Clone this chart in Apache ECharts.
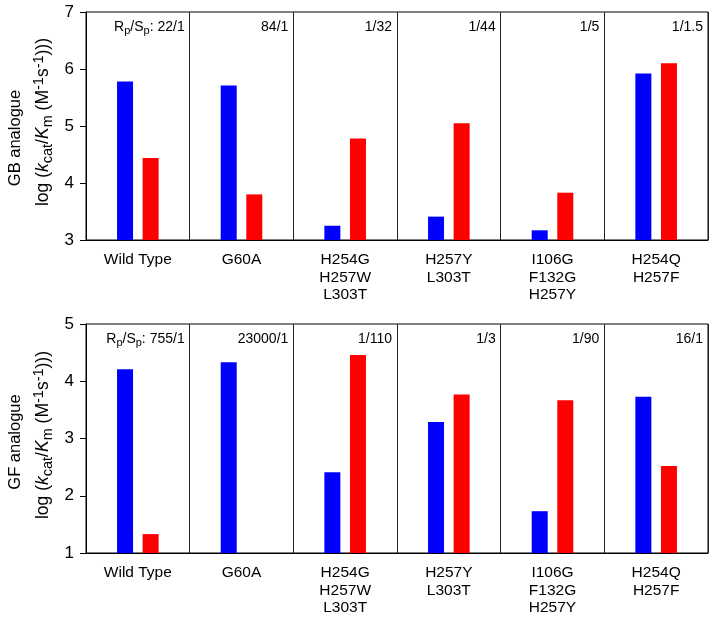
<!DOCTYPE html>
<html>
<head>
<meta charset="utf-8">
<script src="https://cdn.jsdelivr.net/npm/echarts@6/dist/echarts.min.js"></script>
<style>html,body{margin:0;padding:0;background:#fff;}#c{width:716px;height:617px;}</style>
</head>
<body>
<div id="c"></div>
<script>
const categories = ['Wild Type', 'G60A', 'H254G\nH257W\nL303T', 'H257Y\nL303T', 'I106G\nF132G\nH257Y', 'H254Q\nH257F'];
const gbBlue = [5.78, 5.71, 3.25, 3.41, 3.17, 5.92];
const gbRed = [4.44, 3.80, 4.78, 5.05, 3.83, 6.10];
const gfBlue = [4.21, 4.33, 2.41, 3.29, 1.73, 3.73];
const gfRed = [1.33, null, 4.46, 3.77, 3.67, 2.52];
const gbRatios = ['R{s|p}/S{s|p}: 22/1', '84/1', '1/32', '1/44', '1/5', '1/1.5'];
const gfRatios = ['R{s|p}/S{s|p}: 755/1', '23000/1', '1/110', '1/3', '1/90', '16/1'];
const gbTicks = {min: 3, max: 7, interval: 1};
const gfTicks = {min: 1, max: 5, interval: 1};

const FONT = "'Liberation Sans', Arial, sans-serif";
const chart = echarts.init(document.getElementById('c'), null, {renderer: 'canvas'});

function xAxisCfg(gi) {
  return {
    type: 'category', gridIndex: gi, data: categories,
    axisLine: {show: true, lineStyle: {color: '#000', width: 1}},
    axisTick: {show: false},
    axisLabel: {interval: 0, color: '#000', fontSize: 15.5, lineHeight: 17.5, margin: 11, fontFamily: FONT},
    splitLine: {show: true, interval: 0, lineStyle: {color: '#222', width: 1}}
  };
}
function yAxisCfg(gi, t) {
  return {
    type: 'value', gridIndex: gi, min: t.min, max: t.max, interval: t.interval,
    axisLine: {show: true, lineStyle: {color: '#000', width: 1}},
    axisTick: {show: true, inside: false, length: 6, lineStyle: {color: '#000'}},
    axisLabel: {color: '#000', fontSize: 17, margin: 12, fontFamily: FONT},
    splitLine: {show: false}
  };
}
const richAnn = {s: {fontSize: 11, fontFamily: FONT, color: '#000', padding: [7, 0, 0, 0]}};
function annSeries(gi, labels, t) {
  return {
    type: 'custom', xAxisIndex: gi, yAxisIndex: gi, silent: true, z: 5,
    data: labels.map((l, i) => [i, t.max]),
    renderItem: function (params, api) {
      const p = api.coord([api.value(0), api.value(1)]);
      const w = api.size([1, 0])[0];
      return {
        type: 'text', x: p[0] + w / 2 - 5, y: p[1] + 15,
        style: {text: labels[params.dataIndex], align: 'right', verticalAlign: 'middle',
          fontSize: 14, fontFamily: FONT, fill: '#000', rich: richAnn}
      };
    }
  };
}
function bar(gi, vals, color) {
  return {type: 'bar', xAxisIndex: gi, yAxisIndex: gi, data: vals.map(v => v === null ? '-' : v),
    barWidth: 16, barGap: '60%', itemStyle: {color: color}, silent: true};
}
const richY = {
  i: {fontSize: 17.5, fontStyle: 'italic', fontFamily: FONT, fill: '#000'},
  n: {fontSize: 17.5, fontFamily: FONT, fill: '#000'},
  sub: {fontSize: 14.5, fontFamily: FONT, fill: '#000', padding: [9, 0, 0, 0]},
  sup: {fontSize: 14.5, fontFamily: FONT, fill: '#000', padding: [0, 0, 9, 0]}
};
const line2 = '{n|log (}{i|k}{sub|cat}{n|/}{i|K}{sub|m}{n| (M}{sup|-1}{n|s}{sup|-1}{n|)))}';
function yTitle(x, y, txt, fs) {
  return {type: 'text', x: x, y: y, rotation: Math.PI / 2,
    style: {text: txt, align: 'center', verticalAlign: 'middle', fontSize: fs, fontFamily: FONT, fill: '#000', rich: richY}};
}

chart.setOption({
  animation: false,
  backgroundColor: '#fff',
  grid: [
    {left: 86, top: 12, width: 622, height: 228, show: true, borderColor: '#000', borderWidth: 1, backgroundColor: 'transparent'},
    {left: 86, top: 324, width: 622, height: 229, show: true, borderColor: '#000', borderWidth: 1, backgroundColor: 'transparent'}
  ],
  xAxis: [xAxisCfg(0), xAxisCfg(1)],
  yAxis: [yAxisCfg(0, gbTicks), yAxisCfg(1, gfTicks)],
  series: [
    bar(0, gbBlue, '#0000ff'), bar(0, gbRed, '#ff0000'),
    bar(1, gfBlue, '#0000ff'), bar(1, gfRed, '#ff0000'),
    annSeries(0, gbRatios, gbTicks), annSeries(1, gfRatios, gfTicks)
  ],
  graphic: [
    yTitle(15, 138, 'GB analogue', 16.5), yTitle(43, 122, line2, 17.5),
    yTitle(15, 442, 'GF analogue', 16.5), yTitle(43, 435, line2, 17.5)
  ]
});
</script>
</body>
</html>
